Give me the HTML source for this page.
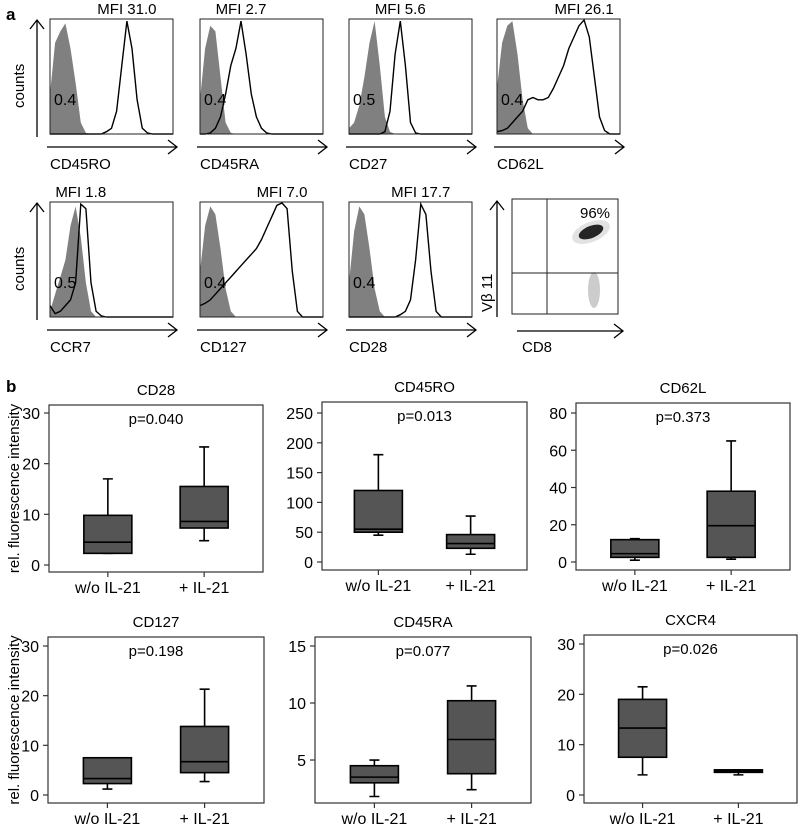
<!DOCTYPE html>
<html><head><meta charset="utf-8">
<style>
html,body{margin:0;padding:0;background:#fff;}
svg{display:block;font-family:"Liberation Sans",Arial,sans-serif;}
</style></head>
<body>
<svg id="fig" width="798" height="827" viewBox="0 0 798 827" xmlns="http://www.w3.org/2000/svg">
<text x="6" y="20" font-size="17" font-weight="bold">a</text>
<text x="6" y="392" font-size="17" font-weight="bold">b</text>
<g id="hist"></g>
<g id="dot">
  <rect x="512" y="199" width="106" height="115" fill="none" stroke="#222" stroke-width="1"/>
  <line x1="547" y1="199" x2="547" y2="314" stroke="#222"/>
  <line x1="512" y1="273" x2="618" y2="273" stroke="#222"/>
  <ellipse cx="591" cy="232" rx="20" ry="10" transform="rotate(-22 591 232)" fill="#111" opacity="0.12"/>
  <ellipse cx="591" cy="232" rx="13" ry="6" transform="rotate(-22 591 232)" fill="#111" opacity="0.9"/>
  <ellipse cx="594" cy="290" rx="6" ry="18" fill="#333" opacity="0.25"/>
  <text x="580" y="218" font-size="15">96%</text>
  <line x1="497" y1="317" x2="497" y2="201" stroke="#000" stroke-width="1.3"/>
  <polyline points="490,210 497,201 504,210" fill="none" stroke="#000" stroke-width="1.3"/>
  <line x1="517" y1="331" x2="623" y2="331" stroke="#000" stroke-width="1.3"/>
  <polyline points="614,324 623,331 614,338" fill="none" stroke="#000" stroke-width="1.3"/>
  <text x="522" y="352" font-size="15">CD8</text>
  <text transform="translate(492,312) rotate(-90)" font-size="15">Vβ 11</text>
</g>
<g id="box"></g>
</svg>
<script>
const NS="http://www.w3.org/2000/svg";
function mk(tag,attrs,parent){const e=document.createElementNS(NS,tag);for(const k in attrs)e.setAttribute(k,attrs[k]);parent.appendChild(e);return e;}

// ---- Histogram data (normalized heights, 25 samples across frame) ----
const histMarkers=["CD45RO","CD45RA","CD27","CD62L","CCR7","CD127","CD28"];
const histMFI=["MFI 31.0","MFI 2.7","MFI 5.6","MFI 26.1","MFI 1.8","MFI 7.0","MFI 17.7"];
const histIso=["0.4","0.4","0.5","0.4","0.5","0.4","0.4"];
const histGray=[
 [0.35,0.8,0.9,0.97,0.75,0.45,0.1,0.01,0,0,0,0,0,0,0,0,0,0,0,0,0,0,0,0,0],
 [0.3,0.75,0.95,0.9,0.5,0.1,0.01,0,0,0,0,0,0,0,0,0,0,0,0,0,0,0,0,0,0],
 [0.05,0.1,0.25,0.5,0.8,0.99,0.6,0.15,0.02,0,0,0,0,0,0,0,0,0,0,0,0,0,0,0,0],
 [0.4,0.8,0.95,0.99,0.7,0.3,0.05,0,0,0,0,0,0,0,0,0,0,0,0,0,0,0,0,0,0],
 [0.05,0.2,0.35,0.5,0.8,0.97,0.7,0.3,0.05,0,0,0,0,0,0,0,0,0,0,0,0,0,0,0,0],
 [0.4,0.8,0.97,0.9,0.6,0.25,0.05,0,0,0,0,0,0,0,0,0,0,0,0,0,0,0,0,0,0],
 [0.3,0.75,0.97,0.9,0.6,0.25,0.05,0,0,0,0,0,0,0,0,0,0,0,0,0,0,0,0,0,0]
];
const histLine=[
 [0,0,0,0,0,0,0,0,0,0,0,0.02,0.05,0.2,0.6,0.99,0.75,0.3,0.05,0.01,0,0,0,0,0],
 [0,0,0.01,0.05,0.15,0.35,0.6,0.75,0.99,0.7,0.35,0.15,0.05,0.01,0,0,0,0,0,0,0,0,0,0,0],
 [0,0,0,0,0,0,0,0.02,0.2,0.7,0.99,0.6,0.1,0.01,0,0,0,0,0,0,0,0,0,0,0],
 [0.02,0.03,0.05,0.1,0.15,0.2,0.3,0.32,0.3,0.3,0.32,0.4,0.5,0.6,0.75,0.85,0.95,1.0,0.85,0.5,0.15,0.03,0,0,0],
 [0.1,0.03,0.05,0.1,0.15,0.3,0.99,0.95,0.3,0.05,0.01,0,0,0,0,0,0,0,0,0,0,0,0,0,0],
 [0.1,0.12,0.15,0.2,0.25,0.3,0.35,0.4,0.45,0.5,0.55,0.6,0.68,0.78,0.88,0.98,1.0,0.95,0.4,0.05,0,0,0,0,0],
 [0,0,0,0,0,0,0,0,0,0,0.02,0.05,0.15,0.5,0.99,0.9,0.4,0.05,0,0,0,0,0,0,0]
];
const histFrameX=[50,200,349,497,50,200,349];
const histFrameY=[19,19,19,19,202,202,202];
const HW=123,HH=115;
const hg=document.getElementById('hist');
histMarkers.forEach((m,i)=>{
  const x0=histFrameX[i],y0=histFrameY[i],yb=y0+HH;
  const g=mk('g',{},hg);
  
  
  const sx=k=>x0+k*HW/24, sy=v=>yb-v*(HH-1);
  let d='M'+x0+','+yb;
  histGray[i].forEach((v,k)=>{d+=' L'+sx(k).toFixed(1)+','+sy(v).toFixed(1);});
  d+=' L'+(x0+HW)+','+yb+' Z';
  const gp=mk('path',{d:d,fill:'#808080',stroke:'none'},g);
  
  
  let pts=histLine[i].map((v,k)=>sx(k).toFixed(1)+','+sy(v).toFixed(1)).join(' ');
  const lp=mk('polyline',{points:pts,fill:'none',stroke:'#000','stroke-width':1.4},g);
  
  
  mk('rect',{x:x0,y:y0,width:HW,height:HH,fill:'none',stroke:'#222','stroke-width':1},g);
  let pk=0;histLine[i].forEach((v,k)=>{if(v>histLine[i][pk])pk=k;});
  const t1=mk('text',{x:Math.max(x0+30,Math.min(x0+HW-10,sx(pk))),y:y0-5,'font-size':15,'text-anchor':'middle'},g);
  t1.textContent=histMFI[i];
  
  
  const t2=mk('text',{x:x0+4,y:yb-13-(HH-115)-16,'font-size':16},g);
  t2.textContent=histIso[i];
  
  
  if(i===0||i===4){
    mk('line',{x1:37,y1:yb+3,x2:37,y2:y0+1,stroke:'#000','stroke-width':1.3},g);
    mk('polyline',{points:'30,'+(y0+10)+' 37,'+(y0+1)+' 44,'+(y0+10),fill:'none',stroke:'#000','stroke-width':1.3},g);
    const c=mk('text',{transform:'translate(24,'+(y0+89)+') rotate(-90)','font-size':15},g);
    c.textContent='counts';
    
    
  }
  const ay=yb+13;
  mk('line',{x1:x0-3,y1:ay,x2:x0+HW+4,y2:ay,stroke:'#000','stroke-width':1.3},g);
  mk('polyline',{points:(x0+HW-5)+','+(ay-7)+' '+(x0+HW+4)+','+ay+' '+(x0+HW-5)+','+(ay+7),fill:'none',stroke:'#000','stroke-width':1.3},g);
  const xl=mk('text',{x:x0,y:ay+22,'font-size':15},g);
  xl.textContent=m;
  
  
});

// ---- Boxplot data ----
const boxTitles=["CD28","CD45RO","CD62L","CD127","CD45RA","CXCR4"];
const boxP=["p=0.040","p=0.013","p=0.373","p=0.198","p=0.077","p=0.026"];
const groups=["w/o IL-21","+ IL-21"];
const yMin=[0,0,0,0,1.23,0];
const yMax=[30,250,80,30,15,30];
const yTicks=[[0,10,20,30],[0,50,100,150,200,250],[0,20,40,60,80],[0,10,20,30],[5,10,15],[0,10,20,30]];
const whiskLow=[[2.3,4.8],[45,13],[1,1.5],[1.2,2.7],[1.8,2.4],[4,4]];
const q1=[[2.3,7.3],[50,23],[2.5,2.5],[2.3,4.5],[3,3.8],[7.5,4.5]];
const med=[[4.5,8.6],[55,31],[4.5,19.5],[3.3,6.7],[3.5,6.8],[13.3,4.7]];
const q3=[[9.8,15.5],[120,46],[12,38],[7.5,13.8],[4.5,10.2],[19,5]];
const whiskHigh=[[17,23.3],[180,77],[12.5,65],[7.5,21.3],[5,11.5],[21.5,5]];
const fL=[49,322,576,48,315,584], fR=[263,527,790,264,531,797];
const fT=[405,402,403,637,637,635], fB=[572,570,570,803,803,803];
const tTop=[413,413,413,646,646,644], tBot=[565,562,562,795,803,795];
const bg=document.getElementById('box');
boxTitles.forEach((t,i)=>{
  const g=mk('g',{},bg);
  
  
  const L=fL[i],R=fR[i],T=fT[i],B=fB[i];
  const ys=v=>tBot[i]-(v-yMin[i])/(yMax[i]-yMin[i])*(tBot[i]-tTop[i]);
  const W=R-L, xs=k=>L+W*(k===0?0.275:0.725);
  mk('rect',{x:L,y:T,width:W,height:B-T,fill:'none',stroke:'#333','stroke-width':1.2},g);
  const tt=mk('text',{x:(L+R)/2,y:T-10,'font-size':15,'text-anchor':'middle'},g);
  tt.textContent=t;
  
  
  const pt=mk('text',{x:(L+R)/2,y:T+19,'font-size':15,'text-anchor':'middle'},g);
  pt.textContent=boxP[i];
  
  
  yTicks[i].forEach(v=>{
    const y=ys(v);
    mk('line',{x1:L-5,y1:y,x2:L,y2:y,stroke:'#333','stroke-width':1.2},g);
    const tl=mk('text',{x:L-9,y:y+6,'font-size':16,'text-anchor':'end'},g);
    tl.textContent=v;
    
    
  });
  if(i===0||i===3){
    const yt=mk('text',{transform:'translate(19,'+((T+B)/2)+') rotate(-90)','font-size':15,'text-anchor':'middle'},g);
    yt.textContent='rel. fluorescence intensity';
    
    
  }
  groups.forEach((gname,k)=>{
    const cx=xs(k);
    mk('line',{x1:cx,y1:B,x2:cx,y2:B+5,stroke:'#333','stroke-width':1.2},g);
    const cl=mk('text',{x:cx,y:B+21,'font-size':16,'text-anchor':'middle'},g);
    cl.textContent=gname;
    
    
    const bw=24,cw=5;
    const wl=mk('path',{d:'M'+cx+','+ys(whiskHigh[i][k])+' V'+ys(q3[i][k])+' M'+cx+','+ys(q1[i][k])+' V'+ys(whiskLow[i][k])+
      ' M'+(cx-cw)+','+ys(whiskHigh[i][k])+' H'+(cx+cw)+' M'+(cx-cw)+','+ys(whiskLow[i][k])+' H'+(cx+cw),stroke:'#000','stroke-width':1.6,fill:'none'},g);
    
    
    const r=mk('rect',{x:cx-bw,y:ys(q3[i][k]),width:bw*2,height:Math.max(1,ys(q1[i][k])-ys(q3[i][k])),fill:'#555',stroke:'#000','stroke-width':1.6},g);
    
    
    const ml=mk('line',{x1:cx-bw,y1:ys(med[i][k]),x2:cx+bw,y2:ys(med[i][k]),stroke:'#000','stroke-width':1.6},g);
    
    
  });
});
</script>
</body></html>
